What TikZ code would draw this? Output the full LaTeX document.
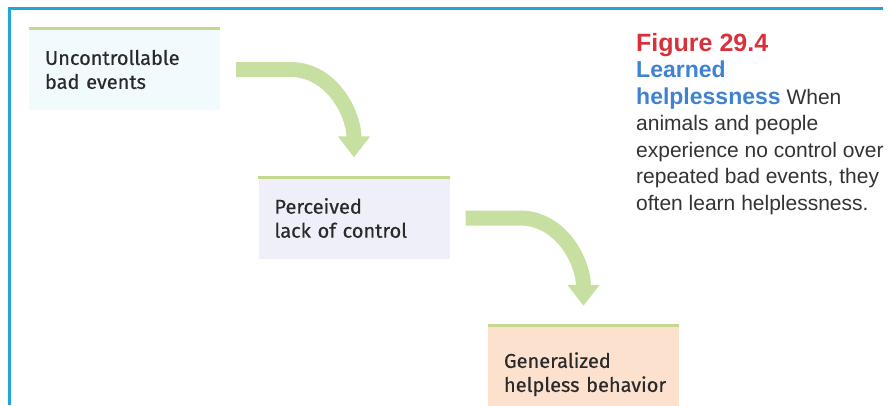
\documentclass[tikz,border=0pt]{standalone}
\usepackage{fontspec}
\setmainfont{Fira Sans}
\newfontfamily\boxfont{Fira Sans}[FakeBold=0.5]
\newfontfamily\capfont{Liberation Sans}
\usepackage{tikz}
\usetikzlibrary{positioning,arrows.meta}

\definecolor{framecyan}{HTML}{22A6D8}
\definecolor{rulegreen}{HTML}{C2D98E}
\definecolor{arrowgreen}{HTML}{C7DFA0}
\definecolor{figred}{HTML}{D7313B}
\definecolor{capblue}{HTML}{3F82D0}
\definecolor{boxcyan}{HTML}{F1FAFC}
\definecolor{boxlilac}{HTML}{EFEFF9}
\definecolor{boxpeach}{HTML}{FBE1CE}
\definecolor{inktext}{HTML}{2A2A2A}
\definecolor{captext}{HTML}{333333}

\begin{document}
\begin{tikzpicture}[x=1bp,y=1bp,node distance=148.5bp and 229.5bp,on grid,
    box/.style={minimum width=191bp,minimum height=81bp,inner xsep=0pt,inner ysep=0pt,
        text width=191bp,align=left,font=\boxfont\fontsize{20bp}{24bp}\selectfont,text=inktext,
        execute at begin node={\leftskip=16bp\relax}},
    toprule/.style={draw=rulegreen,line width=3bp},
    bigarrow/.style={draw=arrowgreen,line width=15bp,-{Triangle[width=31bp,length=21bp]}},
    frame/.style={draw=framecyan,line width=2.5bp},
    captitle/.style={inner sep=0pt,text=figred,font=\capfont\bfseries\fontsize{25bp}{27bp}\selectfont},
    capbody/.style={inner sep=0pt,align=left,text=captext,font=\capfont\fontsize{21bp}{26.5bp}\selectfont}]
    \useasboundingbox (0,0) rectangle (888,-405);
    \draw[frame] (883,-8.5) -- (9.3,-8.5) -- (9.3,-405);
    % the three stages
    \node[box,fill=boxcyan] (bad) at (124.5,-69.5) {Uncontrollable\\bad events};
    \node[box,fill=boxlilac] (lack) [below right=of bad] {Perceived\\lack of control};
    \node[box,fill=boxpeach,text height=31bp] (helpless) [below right=of lack] {Generalized\\helpless behavior};
    \foreach \n in {bad,lack,helpless}
        \draw[toprule] (\n.north west) -- (\n.north east);
    \draw[bigarrow] ([xshift=16bp]bad.east) -- ++(54,0) to[out=0,in=90] ([yshift=20bp]lack.north);
    \draw[bigarrow] ([xshift=16bp]lack.east) -- ++(54,0) to[out=0,in=90] ([yshift=20bp]helpless.north);
    % caption
    \node[captitle,anchor=base west] (figno) at (636,-51) {Figure 29.4};
    \node[capbody,anchor=north west] (figtext) at (636,-61)
        {{\color{capblue}\bfseries\fontsize{23bp}{26.5bp}\selectfont Learned}\\
         {\color{capblue}\bfseries\fontsize{23bp}{26.5bp}\selectfont helplessness} When\\
         animals and people\\
         experience no control over\\
         repeated bad events, they\\
         often learn helplessness.};
\end{tikzpicture}
\end{document}
